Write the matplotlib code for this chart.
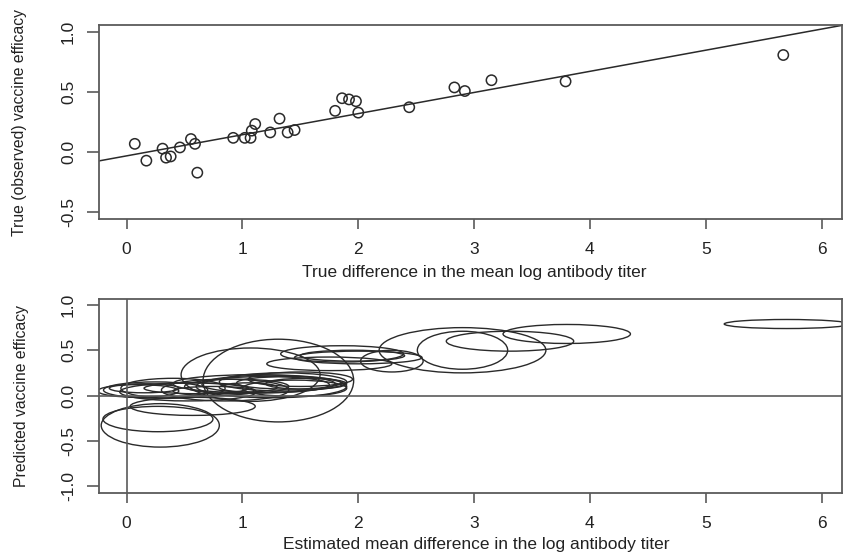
import matplotlib
matplotlib.use('Agg')
import matplotlib.pyplot as plt
from matplotlib.patches import Ellipse

plt.rcParams['font.family'] = ['Liberation Sans', 'DejaVu Sans']

# top panel: true difference vs true vaccine efficacy
true_diff = [0.07, 0.17, 0.31, 0.34, 0.38, 0.46, 0.555, 0.59, 0.61, 0.92,
             1.02, 1.07, 1.08, 1.11, 1.24, 1.32, 1.39, 1.45, 1.80, 1.86,
             1.92, 1.98, 2.00, 2.44, 2.83, 2.92, 3.15, 3.79, 5.67]
true_eff = [0.07, -0.07, 0.03, -0.045, -0.035, 0.04, 0.11, 0.07, -0.17, 0.12,
            0.12, 0.12, 0.18, 0.235, 0.165, 0.28, 0.165, 0.185, 0.345, 0.45,
            0.44, 0.425, 0.33, 0.375, 0.54, 0.51, 0.60, 0.59, 0.81]
fit_intercept = -0.030
fit_slope = 0.176

# bottom panel: estimated difference / predicted efficacy with uncertainty ellipses
est_diff = [5.70, 3.80, 3.31, 2.90, 2.90, 2.29, 1.86, 2.00, 1.95, 1.31,
            1.07, 0.29, 0.27, 0.57, 0.10, 0.25, 0.40, 0.53, 0.60, 0.75,
            0.95, 1.05, 1.20, 1.35, 1.40, 1.50, 1.55, 1.25, 0.15, 1.75,
            0.85, 1.45, 1.10]
pred_eff = [0.79, 0.68, 0.60, 0.50, 0.50, 0.38, 0.46, 0.42, 0.44, 0.165,
            0.23, -0.33, -0.26, -0.12, 0.05, 0.06, 0.08, 0.04, 0.08, 0.05,
            0.10, 0.09, 0.12, 0.15, 0.14, 0.18, 0.13, 0.10, 0.08, 0.35,
            0.06, 0.08, 0.13]
diff_halfwidth = [0.54, 0.55, 0.55, 0.39, 0.72, 0.27, 0.53, 0.55, 0.45, 0.65,
                  0.60, 0.51, 0.475, 0.54, 0.35, 0.45, 0.45, 0.59, 0.45, 0.35,
                  0.45, 0.25, 0.55, 0.55, 0.45, 0.45, 0.35, 0.65, 0.30, 0.54,
                  0.55, 0.45, 0.70]
eff_halfwidth = [0.05, 0.105, 0.11, 0.21, 0.25, 0.12, 0.09, 0.07, 0.06, 0.457,
                 0.295, 0.24, 0.14, 0.10, 0.07, 0.09, 0.11, 0.10, 0.06, 0.05,
                 0.08, 0.05, 0.09, 0.10, 0.07, 0.08, 0.06, 0.125, 0.05, 0.075,
                 0.12, 0.09, 0.10]

W, H = 843, 553
fig = plt.figure(figsize=(W / 100, H / 100), dpi=100)
gray = '#5a5a5a'
ink = '#2a2a2a'


def style(ax, yticks, ytl):
    for s in ax.spines.values():
        s.set_color(gray)
        s.set_linewidth(1.3)
    ax.set_xticks([0, 1, 2, 3, 4, 5, 6])
    ax.set_yticks(yticks)
    ax.set_yticklabels(ytl, rotation=90, va='center')
    ax.tick_params(axis='x', length=7, width=1.2, color=gray, pad=9.5, labelsize=12.5, labelcolor='#222')
    ax.tick_params(axis='y', length=8.5, width=1.2, color=gray, pad=8, labelsize=12.5, labelcolor='#222')


ax1 = fig.add_axes([99 / W, 1 - 219 / H, 743 / W, 194 / H])
ax1.scatter(true_diff, true_eff, s=55, facecolors='none', edgecolors=ink, linewidths=1.1, zorder=3)
ax1.axline((0, fit_intercept), slope=fit_slope, color=ink, lw=1.1)
ax1.set_xlim(-0.239, 6.177)
ax1.set_ylim(-0.556, 1.06)
style(ax1, [-0.5, 0.0, 0.5, 1.0], ['-0.5', '0.0', '0.5', '1.0'])
ax1.set_xlabel('True difference in the mean log antibody titer', fontsize=12.5, color='#222')
ax1.xaxis.set_label_coords((474 - 99) / 743, -54 / 194)
ax1.xaxis.label.set_va('center')
ax1.set_ylabel('True (observed) vaccine efficacy', fontsize=11.3, color='#222')
ax1.yaxis.set_label_coords((20 - 99) / 743, 0.5)
ax1.yaxis.label.set_va('center')

ax2 = fig.add_axes([99 / W, 1 - 492.7 / H, 743 / W, 193.4 / H])
for cx, cy, hw, hh in zip(est_diff, pred_eff, diff_halfwidth, eff_halfwidth):
    ax2.add_patch(Ellipse((cx, cy), 2 * hw, 2 * hh, fill=False, edgecolor=ink, lw=1.0))
ax2.axhline(0, color=gray, lw=1.2)
ax2.axvline(0, color=gray, lw=1.2)
ax2.set_xlim(-0.239, 6.177)
ax2.set_ylim(-1.074, 1.063)
style(ax2, [-1.0, -0.5, 0.0, 0.5, 1.0], ['-1.0', '-0.5', '0.0', '0.5', '1.0'])
ax2.set_xlabel('Estimated mean difference in the log antibody titer', fontsize=12.5, color='#222')
ax2.xaxis.set_label_coords((476 - 99) / 743, -51.6 / 193.4)
ax2.xaxis.label.set_va('center')
ax2.set_ylabel('Predicted vaccine efficacy', fontsize=11.3, color='#222')
ax2.yaxis.set_label_coords((22 - 99) / 743, 0.5)
ax2.yaxis.label.set_va('center')

fig.savefig('out.png', dpi=100)
